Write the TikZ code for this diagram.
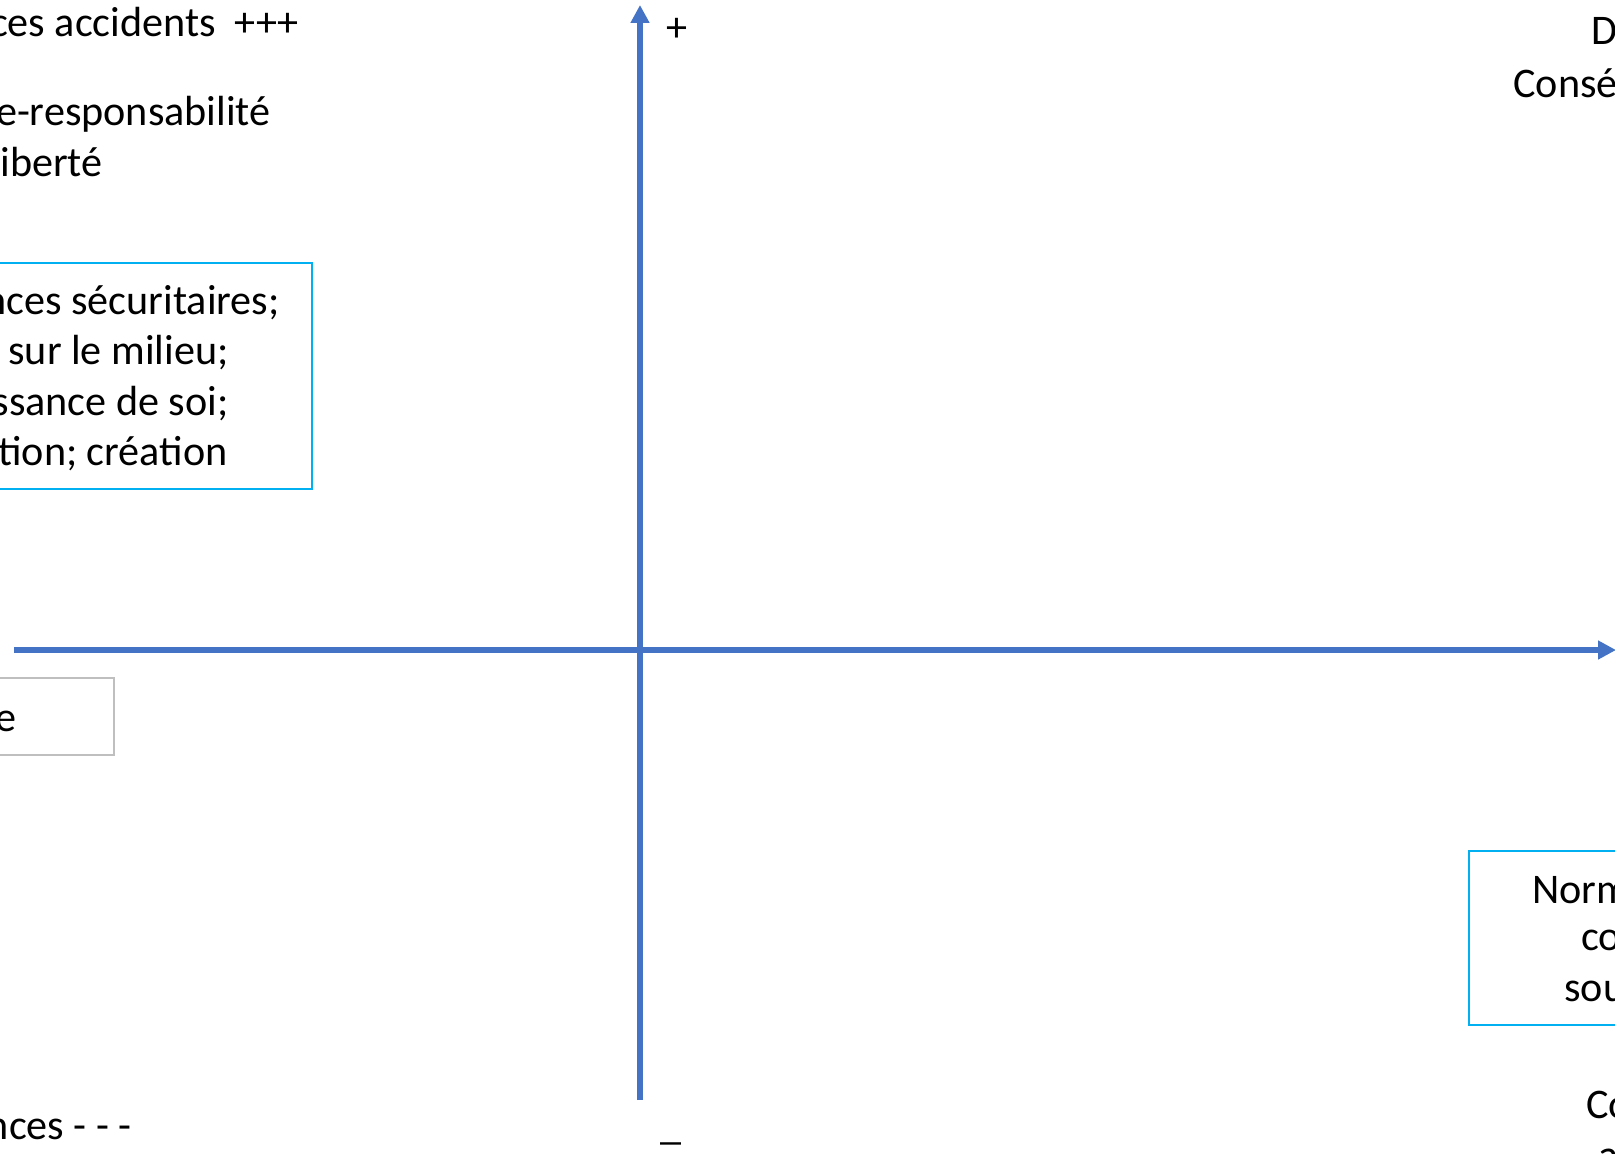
\documentclass[tikz,border=0pt]{standalone}
\usepackage{fontspec}
\setmainfont{Carlito}
\usetikzlibrary{arrows.meta}

\definecolor{axebleu}{HTML}{4472C4}
\definecolor{cadrebleu}{HTML}{00B0F0}
\definecolor{cadregris}{HTML}{BFBFBF}

\begin{document}
\begin{tikzpicture}[x=0.02cm, y=-0.02cm, >={Triangle[length=0.36cm, width=0.36cm]},
  axe/.style={draw=axebleu, line width=0.105cm, ->},
  cadre/.style={line width=0.04cm},
  texte/.style={font=\fontsize{24}{29}\selectfont, inner sep=0pt}]

  % cadre de la figure (1 unité = 1 px)
  \useasboundingbox (0,0) rectangle (1615,1153);
  \clip (0,0) rectangle (1615,1153);

  % 1. Axes
  \coordinate (O) at (640,650);
  \coordinate (gauche) at (14,650);
  \coordinate (droite) at (1616,650);
  \coordinate (bas) at (640,1100);
  \coordinate (haut) at (640,5);
  \draw[axe] (gauche) -- (droite);
  \draw[axe] (bas) -- (haut);

  \node[texte] (plus) at (677,30) {+};
  \node[texte] (moins) at (671,1142) {\_};

  % 2. Quadrant haut gauche
  \node[texte, anchor=base east] (acc) at (299,36) {ces accidents\ \ +++};
  \node[texte, anchor=base east] (resp) at (271,125) {e-responsabilité};
  \node[texte, anchor=base east] (lib) at (103,176) {iberté};

  \draw[cadre, draw=cadrebleu] (-5,263) rectangle (312,489);
  \node[texte, anchor=base east] (l1) at (280,314) {nces sécuritaires;};
  \node[texte, anchor=base east] (l2) at (229,364) {sur le milieu;};
  \node[texte, anchor=base east] (l3) at (229,415) {ssance de soi;};
  \node[texte, anchor=base east] (l4) at (228,465) {tion; création};

  % 3. Quadrant bas gauche
  \draw[cadre, draw=cadregris] (-5,678) rectangle (114,755);
  \node[texte, anchor=base east] (e) at (16.5,731) {e};
  \node[texte, anchor=base east] (cons) at (132,1139) {nces - - -};

  % 4. Côté droit
  \node[texte, anchor=base west] (D) at (1591,44) {D};
  \node[texte, anchor=base west] (conse) at (1513,97) {Consé};

  \draw[cadre, draw=cadrebleu] (1469,851) rectangle (1625,1025);
  \node[texte, anchor=base west] (norm) at (1532,903) {Norm};
  \node[texte, anchor=base west] (co) at (1581,950) {co};
  \node[texte, anchor=base west] (sou) at (1564,1001) {sou};

  \node[texte, anchor=base west] (Co) at (1586,1118) {Co};
  \node[texte, anchor=base west] (a) at (1598,1169) {a};

\end{tikzpicture}
\end{document}
